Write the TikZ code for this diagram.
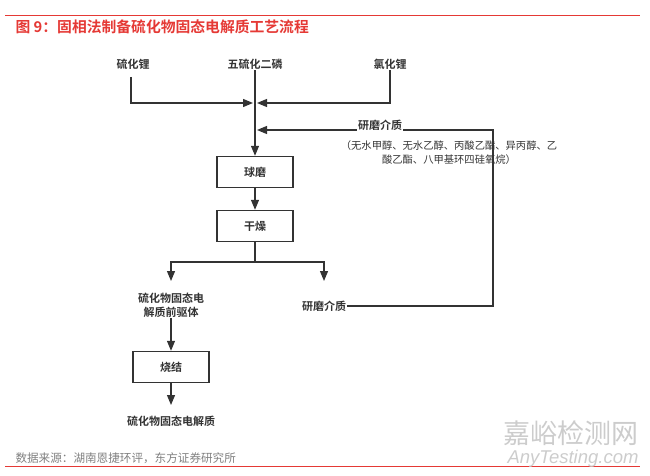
\documentclass[tikz,border=0pt]{standalone}
\usepackage{fontspec}
\setmainfont{Noto Sans CJK SC}[BoldFont={Noto Sans CJK SC Bold}]
\newfontfamily\wmfont{Liberation Sans}
\usetikzlibrary{arrows.meta}
\definecolor{linegray}{HTML}{333333}
\definecolor{titlered}{HTML}{E53935}
\definecolor{srcgray}{HTML}{808080}
\definecolor{wmgray}{HTML}{CCCCCC}
\tikzset{
  label/.style={font=\bfseries\fontsize{11}{14}\selectfont, text=linegray, inner sep=1pt},
  procbox/.style={draw=linegray, line width=1.4pt, minimum width=76pt, minimum height=31pt, font=\bfseries\fontsize{11}{14}\selectfont, text=linegray},
  flow/.style={draw=linegray, line width=1.2pt},
  tip/.style={-{Triangle[length=10pt,width=8pt]}}
}
\begin{document}
\begin{tikzpicture}[x=1pt,y=-1pt]
  \useasboundingbox (0,0) rectangle (650,476);
  \def\mainx{255}
  \def\loopx{493}

  % frame lines and title
  \draw[titlered, line width=1pt] (5,16) -- (640,16);
  \draw[titlered, line width=1pt] (5,466) -- (640,466);
  \node[anchor=west, text=titlered, font=\bfseries\fontsize{14.8}{17}\selectfont] (title) at (12,27) {图 9：固相法制备硫化物固态电解质工艺流程};
  \node[anchor=west, text=srcgray, font=\fontsize{11.6}{13}\selectfont] (source) at (12,458) {数据来源：湖南恩捷环评，东方证券研究所};

  % watermark
  \node[text=wmgray, font=\fontsize{27}{30}\selectfont] (wmcn) at (571,433) {嘉峪检测网};
  \node[anchor=east, text=wmgray, font=\wmfont\itshape\fontsize{18.5}{20}\selectfont] (wmen) at (642,459) {AnyTesting.com};

  % raw materials
  \node[label] (lis) at (133,64) {硫化锂};
  \node[label] (pss) at (\mainx,64) {五硫化二磷};
  \node[label] (licl) at (390,64) {氯化锂};
  \coordinate (mixl) at (\mainx-2,103);
  \coordinate (mixr) at (\mainx+2,103);

  % process boxes
  \node[procbox] (mill) at (\mainx,172) {球磨};
  \node[procbox] (dry) at (\mainx,226) {干燥};
  \node[label, align=center] (prec) at (171,305) {硫化物固态电\\解质前驱体};
  \node[label] (medbot) at (324,306) {研磨介质};
  \node[procbox] (sinter) at (171,367) {烧结};
  \node[label] (prod) at (171,421) {硫化物固态电解质};

  % grinding medium and solvents
  \node[font=\fontsize{10.3}{14}\selectfont, text=linegray, align=center] (solv) at (449,153) {（无水甲醇、无水乙醇、丙酸乙酯、异丙醇、乙\\酸乙酯、八甲基环四硅氧烷）};

  % connectors
  \draw[flow, tip] (131,77) -- (131,103) -- (mixl);
  \draw[flow, tip] (licl.south) -- (390,103) -- (mixr);
  \draw[flow, tip] (pss.south) -- (mill.north);
  \draw[flow, tip] (mill) -- (dry);
  \draw[flow] (dry.south) -- (\mainx,262);
  \draw[flow, tip] (\mainx,262) -| (prec.north |- 0,281);
  \draw[flow, tip] (\mainx,262) -| (medbot.north |- 0,281);
  \draw[flow, tip] (prec.south) -- (sinter.north);
  \draw[flow, tip] (sinter.south) -- (171,405);
  \draw[flow, tip] (medbot.east) -- (\loopx,306) -- (\loopx,130) -- (\mainx+2,130);
  \node[label, fill=white] (medtop) at (380,125) {研磨介质};
\end{tikzpicture}
\end{document}
